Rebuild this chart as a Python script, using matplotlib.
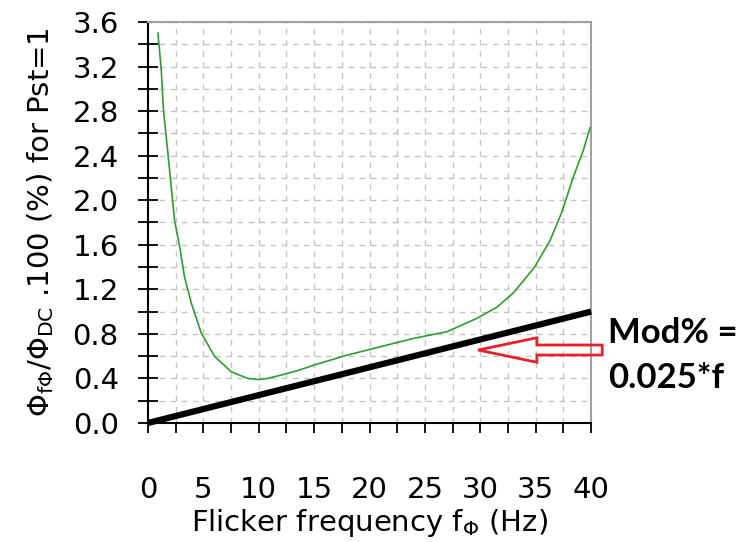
import matplotlib
matplotlib.use("Agg")
import matplotlib.pyplot as plt
from matplotlib.patches import FancyArrow
from matplotlib.ticker import MultipleLocator, FormatStrFormatter

# flicker modulation (%) for Pst = 1
freq = [0.9, 1.2, 1.4, 1.8, 2.1, 2.4, 2.9, 3.3, 3.9, 4.8, 6.0, 7.5, 9.0,
        10.0, 10.8, 12.0, 13.5, 15.0, 18.0, 21.0, 24.0, 27.0, 29.7, 31.5,
        33.0, 34.9, 36.3, 37.3, 38.4, 39.3, 39.9]
mod_pst1 = [3.50, 3.17, 2.81, 2.42, 2.12, 1.82, 1.56, 1.31, 1.08, 0.81, 0.60,
            0.46, 0.40, 0.39, 0.40, 0.43, 0.47, 0.52, 0.61, 0.685, 0.76, 0.82,
            0.94, 1.04, 1.17, 1.40, 1.64, 1.88, 2.21, 2.45, 2.65]

# Mod% = 0.025*f line
lin_f = [0.0, 40.0]
lin_mod = [0.0, 1.0]

plt.rcParams["font.family"] = ["DejaVu Sans"]
plt.rcParams["mathtext.fontset"] = "dejavusans"

fig = plt.figure(figsize=(7.38, 5.42), dpi=100)
ax = fig.add_axes([0.2005, 0.2196, 0.6005, 0.7398])

ax.plot(freq, mod_pst1, color="#2e9e2e", lw=1.2, zorder=3)
ax.plot(lin_f, lin_mod, color="black", lw=4.5, solid_capstyle="butt", zorder=4,
        clip_on=False)

ax.set_xlim(0, 40)
ax.set_ylim(0, 3.6)
ax.xaxis.set_major_locator(MultipleLocator(5))
ax.xaxis.set_minor_locator(MultipleLocator(2.5))
ax.yaxis.set_major_locator(MultipleLocator(0.4))
ax.yaxis.set_minor_locator(MultipleLocator(0.2))
ax.yaxis.set_major_formatter(FormatStrFormatter("%.1f"))

ax.grid(which="both", color="#c4c4c4", linestyle=(0, (4, 4)), lw=1.0)
ax.set_axisbelow(True)

ax.tick_params(axis="x", which="both", direction="out", length=7, width=1.3,
               labelsize=21, pad=31)
ax.tick_params(axis="y", which="both", direction="inout", length=14, width=1.3,
               labelsize=21, pad=14)

for s in ["left", "bottom"]:
    ax.spines[s].set_color("black")
    ax.spines[s].set_linewidth(1.5)
for s in ["top", "right"]:
    ax.spines[s].set_color("#a0a0a0")
    ax.spines[s].set_linewidth(1.5)

ax.set_xlabel(r"Flicker frequency f$_{\Phi}$ (Hz)", fontsize=21, labelpad=2)
ax.set_ylabel(r"$\Phi_{\mathrm{f\Phi}}/\Phi_{\mathrm{DC}}$ .100 (%) for Pst=1",
              fontsize=21, labelpad=12)

arrow = FancyArrow(41.0, 0.655, -11.2, 0, width=0.09, head_width=0.22,
                   head_length=5.3, length_includes_head=True, fill=False,
                   edgecolor="#e8202a", lw=2, clip_on=False, zorder=5)
ax.add_patch(arrow)

fig.text(0.824, 0.386, "Mod% =", fontsize=25, fontweight="bold",
         family="Lato", va="center", ha="left")
fig.text(0.824, 0.303, "0.025*f", fontsize=25, fontweight="bold",
         family="Lato", va="center", ha="left")

fig.savefig("out.png", dpi=100)
